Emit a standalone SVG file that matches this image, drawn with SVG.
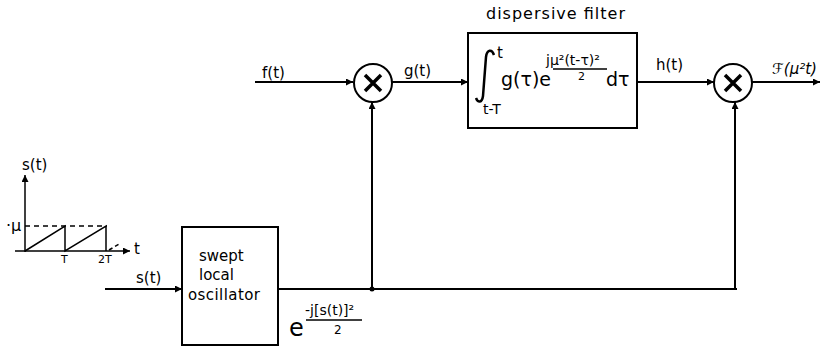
<svg xmlns="http://www.w3.org/2000/svg" width="828" height="350" viewBox="0 0 828 350">
<style>
.ln{stroke:#000;stroke-width:2;fill:none}
.thin{stroke:#000;stroke-width:1.5;fill:none}
.dash{stroke:#000;stroke-width:1.3;fill:none;stroke-dasharray:5 4}
.bx{stroke:#000;stroke-width:2;fill:#fff}
text{font-family:"DejaVu Sans","Liberation Sans",sans-serif;fill:#000}
.lb{font-size:15px}
.sm{font-size:11px}
</style>
<defs>
<marker id="ar" viewBox="0 0 10 10" refX="10" refY="5" markerWidth="9" markerHeight="7" markerUnits="userSpaceOnUse" orient="auto">
<path d="M0,0 L10,5 L0,10 z" fill="#000"/>
</marker>
</defs>
<rect width="828" height="350" fill="#fff"/>

<g id="graph">
<line class="thin" x1="25" y1="252" x2="25" y2="175" marker-end="url(#ar)"/>
<line class="thin" x1="15" y1="251" x2="130" y2="251" marker-end="url(#ar)"/>
<line class="dash" x1="25" y1="226" x2="107" y2="226"/>
<polyline class="thin" points="25,251 65,226 65,251 106,226 106,251"/>
<line class="thin" x1="109" y1="250" x2="121" y2="243" stroke-dasharray="4 3"/>
<text class="lb" x="22" y="170">s(t)</text>
<text x="6" y="231" font-size="16">·μ</text>
<text class="lb" x="134" y="254">t</text>
<text class="sm" x="61" y="263">T</text>
<text class="sm" x="98" y="263">2T</text>
</g>

<g id="lo">
<rect class="bx" x="182" y="227" width="96" height="118"/>
<text class="lb" x="199" y="261">swept</text>
<text class="lb" x="199" y="280">local</text>
<text class="lb" x="188" y="300" textLength="72">oscillator</text>
</g>

<g id="mult1">
<circle class="ln" cx="373" cy="83" r="19"/>
<path d="M365,75 L381,91 M381,75 L365,91" stroke="#000" stroke-width="3.5"/>
</g>

<g id="filter">
<rect class="bx" x="468" y="33" width="169" height="95"/>
<text x="486" y="19" font-size="16" textLength="139">dispersive filter</text>
<path d="M494,55 C492,49 487,49 486,57 L483,96 C482,103 478,103 476,98" stroke="#000" stroke-width="2.5" fill="none"/>
<text class="lb" x="497" y="58">t</text>
<text x="483" y="114" font-size="14">t-T</text>
<text x="501" y="86" font-size="19">g(τ)e</text>
<text x="546" y="65" font-size="14">jμ²(t-τ)²</text>
<line class="thin" x1="553" y1="69" x2="607" y2="69"/>
<text x="578" y="80" font-size="11">2</text>
<text x="606" y="86" font-size="19">dτ</text>
</g>

<g id="mult2">
<circle class="ln" cx="733" cy="83" r="19"/>
<path d="M725,75 L741,91 M741,75 L725,91" stroke="#000" stroke-width="3.5"/>
</g>

<g id="connectors">
<line class="ln" x1="255" y1="82" x2="353" y2="82" marker-end="url(#ar)"/>
<line class="ln" x1="392" y1="82" x2="468" y2="82" marker-end="url(#ar)"/>
<line class="ln" x1="637" y1="82" x2="714" y2="82" marker-end="url(#ar)"/>
<line class="ln" x1="752" y1="82" x2="820" y2="82" marker-end="url(#ar)"/>
<line class="ln" x1="105" y1="289" x2="182" y2="289" marker-end="url(#ar)"/>
<line class="ln" x1="278" y1="289" x2="737" y2="289"/>
<line class="ln" x1="372" y1="289" x2="372" y2="102" marker-end="url(#ar)"/>
<line class="ln" x1="735" y1="289" x2="735" y2="102" marker-end="url(#ar)"/>
<circle cx="372" cy="289" r="2.5" fill="#000"/>
</g>

<g id="labels">
<text class="lb" x="262" y="78">f(t)</text>
<text class="lb" x="404" y="76">g(t)</text>
<text class="lb" x="656" y="70">h(t)</text>
<text x="772" y="74" font-size="15" font-family="Liberation Serif,serif" font-style="italic">ℱ(μ²t)</text>
<text class="lb" x="136" y="283">s(t)</text>
<text x="289" y="336" font-size="24">e</text>
<text x="305" y="315" font-size="14">-j[s(t)]²</text>
<line class="thin" x1="306" y1="320" x2="362" y2="320"/>
<text x="334" y="334" font-size="12">2</text>
</g>
</svg>
